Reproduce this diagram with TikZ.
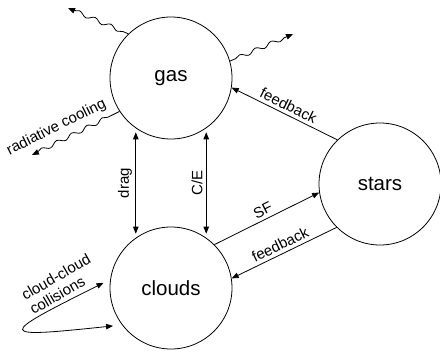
\documentclass[tikz,border=0pt]{standalone}
\usepackage{fontspec}
\setmainfont{Liberation Sans}
\usetikzlibrary{arrows.meta,decorations.pathmorphing}

\begin{document}
\begin{tikzpicture}[x=1bp, y=1bp,
  pool/.style={draw, circle, line width=0.8bp, minimum size=122bp, inner sep=0pt, font=\fontsize{20.5bp}{24bp}\selectfont},
  lbl/.style={font=\fontsize{15bp}{16.5bp}\selectfont},
  wavy/.style={decorate, decoration={snake, amplitude=2bp, segment length=17bp, pre length=6bp, post length=6bp}},
  >={Triangle[length=7bp,width=5.5bp]}, line width=0.8bp]
  \useasboundingbox (0,0) rectangle (440,354);
  % the three pools
  \node[pool] (gas) at (171,276) {gas};
  \node[pool] (clouds) at (171,66) {clouds};
  \node[pool] (stars) at (380,170) {stars};
  % free ends of the cooling arrows
  \coordinate (rad1) at (68,346);
  \coordinate (rad2) at (293,320);
  \coordinate (rad3) at (32,199);
  % exchanges
  \draw[<->, shorten <=4bp, shorten >=4bp] (clouds.125) -- node[lbl, sloped, above] {drag} (gas.-125);
  \draw[<->, shorten <=4bp, shorten >=4bp] (clouds.55) -- node[lbl, sloped, above] {C/E} (gas.-55);
  \draw[->] (clouds.45) -- node[lbl, sloped, above] {SF} (stars.188);
  \draw[<-] (clouds.9) -- node[lbl, sloped, above] {feedback} (stars.225);
  \draw[<-] (gas.351) -- node[lbl, sloped, above] {feedback} (stars.134);
  % cooling
  \draw[wavy, ->] (gas.134) -- (rad1);
  \draw[wavy, ->] (gas.16) -- (rad2);
  \draw[wavy, <-] (rad3) -- node[lbl, pos=0.35, sloped, above=3bp] {radiative cooling} (gas.213);
  % collisions
  \draw[<->, shorten <=7.5bp, shorten >=9bp] (clouds.172) .. controls +(206.6:127bp) and +(186:127bp) .. (clouds.217);
  \node[lbl, rotate=30, align=left] (coll) at (60,70) {cloud-cloud\\collisions};
\end{tikzpicture}
\end{document}
